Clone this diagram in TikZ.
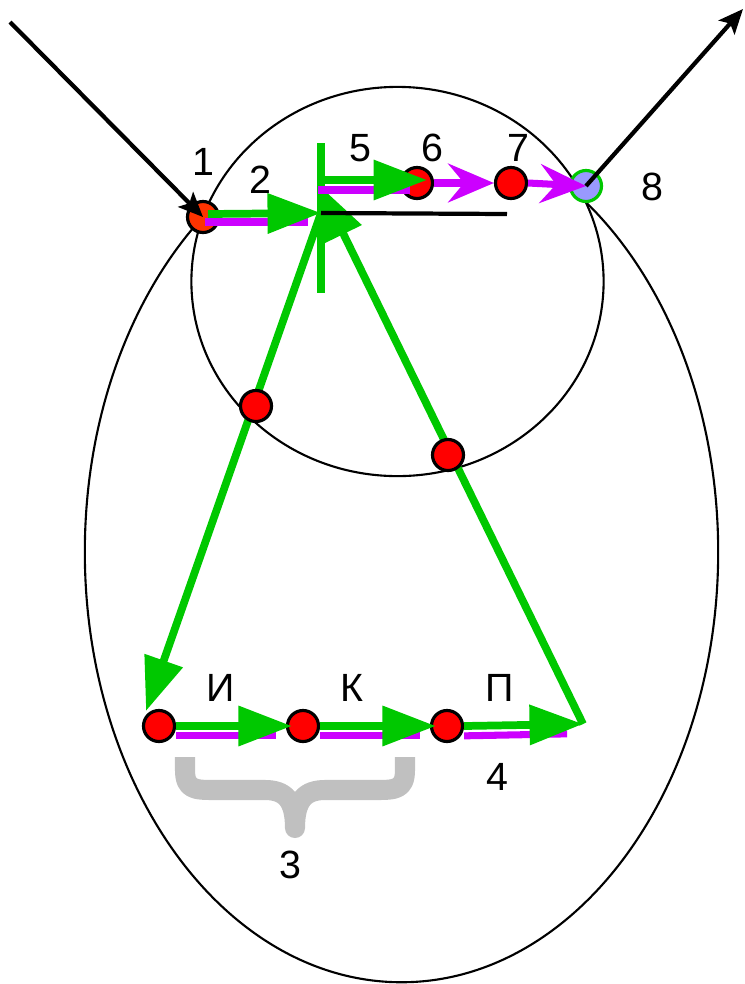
\documentclass[tikz,border=0pt]{standalone}
\usepackage{fontspec}
\setmainfont{Liberation Sans}
\usetikzlibrary{arrows.meta}
\definecolor{grn}{RGB}{0,200,0}
\definecolor{vio}{RGB}{204,0,255}
\definecolor{fireorange}{RGB}{255,51,0}
\definecolor{lilac}{RGB}{153,153,255}
\definecolor{bracegray}{RGB}{192,192,192}
\tikzset{
  dot/.style={circle, draw=black, line width=0.9pt, fill=red, minimum size=0.31cm, inner sep=0pt},
  lbl/.style={font=\fontsize{11.2}{13}\selectfont, inner sep=0pt},
  orbit/.style={draw=black, line width=0.6pt},
  grnline/.style={draw=grn, line width=2.2pt},
  grnarrow/.style={grnline, -{Triangle[length=15.2pt,width=11pt]}},
  violine/.style={draw=vio, line width=2pt},
  vioarrow/.style={violine, -{Stealth[length=13pt,width=11pt,inset=4.5pt]}},
  blkarrow/.style={draw=black, line width=1.2pt, -{Stealth[length=7pt,width=6pt,inset=1.5pt]}},
}
\begin{document}
\begin{tikzpicture}[x=0.01cm, y=-0.01cm, line join=round]
  \useasboundingbox (0,0) rectangle (744,984);
  \draw[orbit] (401.5,552) ellipse [x radius=3.165cm, y radius=4.3cm];
  \draw[orbit, fill=white] (397.5,281.5) ellipse [x radius=2.06cm, y radius=1.945cm];

  \coordinate (src) at (10,22);
  \coordinate (dst) at (743,9);
  \coordinate (apex) at (321,213);
  \coordinate (tipI) at (146,711);
  \coordinate (rc) at (583,724);
  \coordinate (tipR) at (320,186);
  \coordinate (vtop) at (321,143);
  \coordinate (vbot) at (321,293);
  \coordinate (bend) at (507,214);

  \draw[grnarrow] (apex) -- (tipI);
  \draw[grnarrow] (rc) -- (tipR);
  \draw[grnline] (vtop) -- (vbot);
  \draw[black, line width=1.2pt] (apex) -- (bend);

  \node[dot, fill=fireorange] (p1) at (203,217) {};
  \node[dot] (p6) at (417,183) {};
  \node[dot] (p7) at (511,183) {};
  \node[dot, fill=lilac, draw=grn] (p8) at (586,186) {};
  \node[dot] (pA) at (256,406) {};
  \node[dot] (pB) at (448,455) {};
  \node[dot] (pI) at (159,726) {};
  \node[dot] (pK) at (303,726) {};
  \node[dot] (pP) at (447,726) {};

  \coordinate (g2s) at (208,214);
  \coordinate (v2s) at (205,222);
  \coordinate (v2e) at (308,222);
  \coordinate (g5s) at (321,180);
  \coordinate (g5t) at (427,180);
  \coordinate (v5s) at (318,190);
  \coordinate (v5e) at (410,190);

  \draw[violine] (v2s) -- (v2e);
  \draw[grnarrow] (g2s) -- (apex);
  \draw[violine] (v5s) -- (v5e);
  \draw[grnarrow] (g5s) -- (g5t);
  \draw[vioarrow] (p6.east) -- (p7.west);
  \draw[vioarrow] (p7.east) -- (p8.center);

  \draw[violine] ([yshift=-2.8pt]pI.east) -- ([yshift=-2.8pt,xshift=-2.8pt]pK.west);
  \draw[violine] ([yshift=-2.8pt]pK.east) -- ([yshift=-2.8pt,xshift=-2.8pt]pP.west);
  \draw[violine] ([yshift=-2.8pt]pP.east) -- ([yshift=-2.8pt,xshift=-4.5pt]rc);
  \draw[grnarrow, shorten >=-1.7pt] (pI.east) -- (pK.west);
  \draw[grnarrow, shorten >=-1.7pt] (pK.east) -- (pP.west);
  \draw[grnarrow] (pP.east) -- (rc);

  \draw[blkarrow] (src) -- (p1.center);
  \draw[blkarrow] (p8.center) -- (dst);

  \draw[bracegray, line width=5.7pt] (185,757) -- (185,770)
    .. controls (185,790) and (195,790) .. (215,790) -- (265,790)
    .. controls (285,790) and (295,800) .. (295,828)
    .. controls (295,800) and (305,790) .. (325,790) -- (375,790)
    .. controls (395,790) and (405,790) .. (405,770) -- (405,757);

  \node[lbl] (l1) at (203,162) {1};
  \node[lbl] (l2) at (260,180) {2};
  \node[lbl] (l5) at (360,148) {5};
  \node[lbl] (l6) at (432,148) {6};
  \node[lbl] (l7) at (518,148) {7};
  \node[lbl] (l8) at (652,187) {8};
  \node[lbl] (lI) at (221,688) {И};
  \node[lbl] (lK) at (352,688) {К};
  \node[lbl] (lP) at (500,688) {П};
  \node[lbl] (l4) at (497,777) {4};
  \node[lbl] (l3) at (290,865) {3};
\end{tikzpicture}
\end{document}
